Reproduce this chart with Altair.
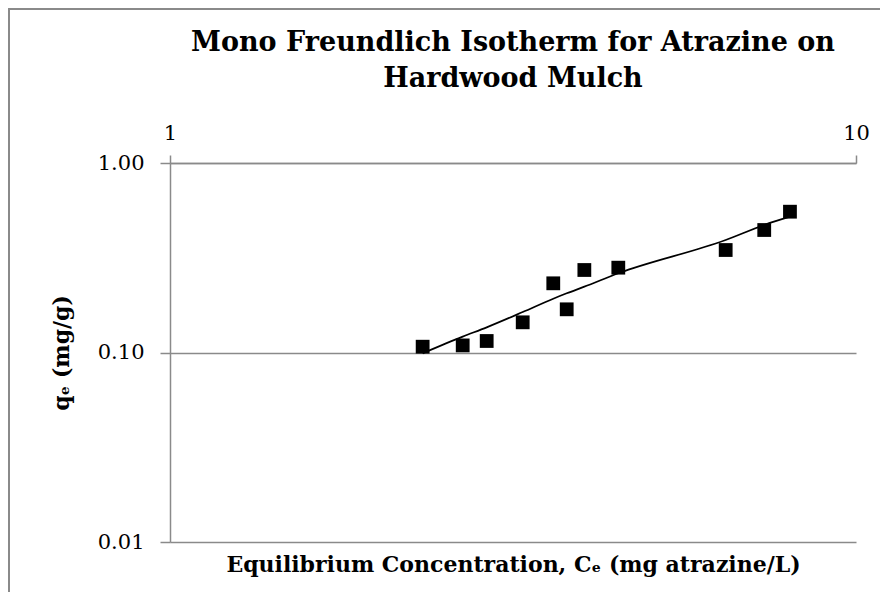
import altair as alt
import pandas as pd

# Equilibrium concentration Ce (mg atrazine/L)
ce = [2.335, 2.671, 2.895, 3.267, 3.620, 3.787, 4.018, 4.503, 6.457, 7.349, 8.012]
# Measured qe (mg/g)
qe = [0.1073, 0.1090, 0.1150, 0.1443, 0.2318, 0.1690, 0.2725, 0.2803, 0.3474, 0.4430, 0.5534]
# Freundlich fit line (mg/g)
qfit = [0.0990, 0.1212, 0.1358, 0.1635, 0.1923, 0.2053, 0.2225, 0.2618, 0.3924, 0.4710, 0.5207]

x_ticks = [1, 10]
y_ticks = [0.01, 0.1, 1]

title_lines = ["Mono Freundlich Isotherm for Atrazine on", "Hardwood Mulch"]
x_title = "Equilibrium Concentration, C\u2091 (mg atrazine/L)"
y_title = "q\u2091 (mg/g)"

df = pd.DataFrame({"Ce": ce, "qe": qe, "qfit": qfit})

FONT = "DejaVu Serif"
GRID = "#8a8a8a"
W, H = 686, 379
PAD = {"left": 162, "top": 155, "right": 24, "bottom": 50}

xscale = alt.Scale(type="log", domain=[1, 10])
yscale = alt.Scale(type="log", domain=[0.01, 1])

y_axis = alt.Axis(
    values=y_ticks, format=".2f", grid=True, gridColor=GRID, gridWidth=1.5,
    domainColor=GRID, domainWidth=1.5, tickColor=GRID, tickWidth=1.5, tickSize=10,
    labelFont=FONT, labelFontSize=21, labelColor="black", labelPadding=16, labelFlush=False,
    title=y_title, titleFont=FONT, titleFontSize=22, titleFontWeight="bold",
    titleColor="black", titlePadding=24,
)

x_top = alt.Axis(
    orient="top", values=x_ticks, format="d", grid=False,
    domainColor=GRID, domainWidth=1.5, tickColor=GRID, tickWidth=1.5, tickSize=8,
    labelFont=FONT, labelFontSize=21, labelColor="black", labelPadding=12, labelFlush=False,
    title=None,
)

x_bottom = alt.Axis(
    orient="bottom", values=x_ticks, labels=False, ticks=False, domain=False, grid=False,
    title=x_title, titleFont=FONT, titleFontSize=22, titleFontWeight="bold",
    titleColor="black", titlePadding=12,
)

points = alt.Chart(df).mark_point(shape="square", filled=True, size=190, color="black", opacity=1).encode(
    x=alt.X("Ce:Q", scale=xscale, axis=x_top),
    y=alt.Y("qe:Q", scale=yscale, axis=y_axis),
)

line = alt.Chart(df).mark_line(color="black", strokeWidth=1.75, interpolate="monotone").encode(
    x=alt.X("Ce:Q", scale=xscale, axis=x_bottom),
    y=alt.Y("qfit:Q", scale=yscale, axis=y_axis),
)

border_top = alt.Chart(df).mark_rule(color=GRID, strokeWidth=1.5).encode(
    x=alt.value(-PAD["left"] + 0.75), x2=alt.value(W + PAD["right"]),
    y=alt.value(-PAD["top"] + 0.75),
)
border_left = alt.Chart(df).mark_rule(color=GRID, strokeWidth=1.5).encode(
    x=alt.value(-PAD["left"] + 0.75),
    y=alt.value(-PAD["top"] + 0.75), y2=alt.value(H + PAD["bottom"]),
)

chart = alt.layer(line, points, border_top, border_left).resolve_axis(x="independent").properties(
    width=W, height=H,
    autosize=alt.AutoSizeParams(type="none"),
    padding=PAD,
    title=alt.Title(
        title_lines, font=FONT, fontSize=27, fontWeight="bold", color="black",
        lineHeight=36, anchor="middle", frame="group", offset=14, dy=99,
    ),
).configure(background="white").configure_view(stroke=None)

chart.save("out.html", embed_options={"renderer": "svg", "actions": False})
